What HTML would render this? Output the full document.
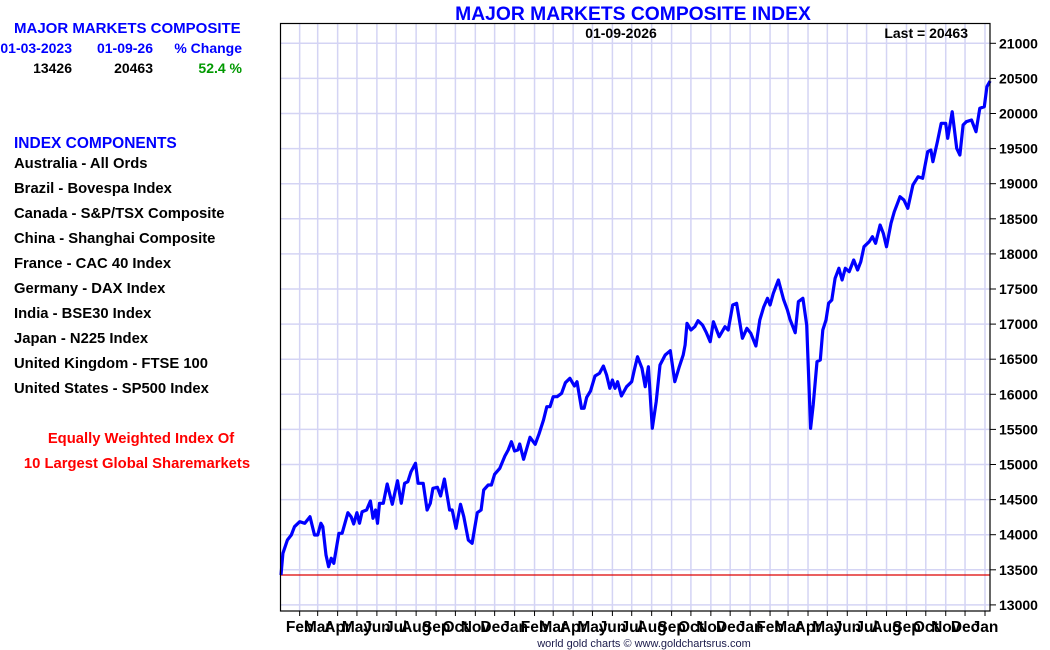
<!DOCTYPE html>
<html><head><meta charset="utf-8"><style>
body{margin:0;background:#fff;}
svg{display:block;font-family:"Liberation Sans",Arial,sans-serif;}
</style></head><body>
<svg id="chart" width="1050" height="650" viewBox="0 0 1050 650" xmlns="http://www.w3.org/2000/svg">
<g font-weight="bold">
<text x="14" y="33" fill="#0000ff" font-size="15">MAJOR MARKETS COMPOSITE</text>
<text x="72" y="53" fill="#0000ff" font-size="14" text-anchor="end">01-03-2023</text>
<text x="153" y="53" fill="#0000ff" font-size="14" text-anchor="end">01-09-26</text>
<text x="242" y="53" fill="#0000ff" font-size="14" text-anchor="end">% Change</text>
<text x="72" y="73" fill="#000" font-size="14" text-anchor="end">13426</text>
<text x="153" y="73" fill="#000" font-size="14" text-anchor="end">20463</text>
<text x="242" y="73" fill="#009900" font-size="14" text-anchor="end">52.4 %</text>
<text x="14" y="148" fill="#0000ff" font-size="15.5">INDEX COMPONENTS</text>
<g font-size="14.8" fill="#000">
<text x="14" y="168">Australia - All Ords</text>
<text x="14" y="193">Brazil - Bovespa Index</text>
<text x="14" y="218">Canada - S&amp;P/TSX Composite</text>
<text x="14" y="243">China - Shanghai Composite</text>
<text x="14" y="268">France - CAC 40 Index</text>
<text x="14" y="293">Germany - DAX Index</text>
<text x="14" y="318">India - BSE30 Index</text>
<text x="14" y="343">Japan - N225 Index</text>
<text x="14" y="368">United Kingdom - FTSE 100</text>
<text x="14" y="393">United States - SP500 Index</text>
</g>
<text x="141" y="443" fill="#ff0000" font-size="14.8" text-anchor="middle">Equally Weighted Index Of</text>
<text x="137" y="468" fill="#ff0000" font-size="14.8" text-anchor="middle">10 Largest Global Sharemarkets</text>
</g>
<text x="633" y="20" fill="#0000ff" font-size="19.3" font-weight="bold" text-anchor="middle">MAJOR MARKETS COMPOSITE INDEX</text>
<g id="grid"></g>
<g id="xaxis"></g>
<g id="yaxis"></g>
<line id="baseLine" x1="281" x2="990" stroke="#dd0000" stroke-width="1.2"/>
<path id="series" fill="none" stroke="#0000ff" stroke-width="3.2" stroke-linejoin="round"/>
<rect x="280.5" y="23.5" width="709.5" height="587.5" fill="none" stroke="#000" stroke-width="1.2"/>
<text x="621" y="38" font-size="14" font-weight="bold" text-anchor="middle">01-09-2026</text>
<text x="968" y="38" font-size="14" font-weight="bold" text-anchor="end">Last = 20463</text>
<text x="644" y="647" font-size="11" fill="#1a1a4a" text-anchor="middle">world gold charts © www.goldchartsrus.com</text>
</svg>
<script>
const dayOffsets = [0,3,10,16,21,29,37,45,52,57,62,65,70,74,78,82,90,95,104,109,113,118,122,126,133,139,143,147,150,153,159,165,173,181,187,192,197,202,209,213,221,227,232,236,243,248,254,262,266,272,279,284,291,297,305,311,315,322,327,332,340,348,353,358,363,368,371,377,387,395,401,408,413,418,423,429,436,442,449,456,460,467,471,475,481,488,495,501,506,511,515,519,523,529,537,545,549,554,561,566,571,577,583,589,597,605,612,619,625,628,631,637,643,648,655,661,667,672,681,690,695,702,708,717,724,730,738,744,750,756,760,765,773,781,787,791,799,804,811,817,823,827,833,838,842,847,851,856,861,867,872,877,883,890,896,901,906,914,919,924,931,936,941,948,953,958,962,968,974,982,990,997,1005,1010,1013,1020,1026,1033,1036,1043,1050,1055,1060,1065,1073,1080,1086,1093,1097,1102];
const indexValues = [13426,13735,13925,13996,14114,14185,14162,14256,13996,13996,14162,14114,13711,13544,13664,13593,14020,14020,14313,14256,14152,14313,14162,14328,14352,14480,14234,14352,14162,14447,14447,14722,14433,14769,14447,14732,14755,14897,15017,14732,14732,14352,14447,14661,14675,14551,14793,14352,14352,14091,14433,14256,13925,13877,14313,14352,14637,14708,14708,14861,14946,15121,15207,15325,15192,15207,15292,15074,15387,15288,15434,15634,15823,15823,15966,15966,16014,16165,16228,16118,16180,15801,15801,15957,16047,16261,16299,16403,16275,16086,16204,16086,16180,15976,16108,16180,16346,16536,16370,16108,16393,15516,15895,16417,16560,16621,16180,16393,16560,16702,17011,16916,16963,17048,16987,16878,16749,17034,16821,16963,16916,17272,17296,16798,16940,16869,16688,17058,17239,17368,17272,17439,17628,17349,17201,17068,16878,17319,17368,16987,15516,15848,16464,16488,16916,17058,17296,17344,17652,17795,17628,17795,17746,17913,17771,17889,18103,18174,18245,18151,18412,18293,18103,18436,18601,18721,18815,18768,18650,18981,19100,19077,19456,19480,19313,19598,19860,19860,19647,20026,19504,19409,19836,19883,19907,19741,20074,20097,20382,20463];
const yTicks = [13000,13500,14000,14500,15000,15500,16000,16500,17000,17500,18000,18500,19000,19500,20000,20500,21000];
const monthLabels = ["Feb","Mar","Apr","May","Jun","Jul","Aug","Sep","Oct","Nov","Dec","Jan","Feb","Mar","Apr","May","Jun","Jul","Aug","Sep","Oct","Nov","Dec","Jan","Feb","Mar","Apr","May","Jun","Jul","Aug","Sep","Oct","Nov","Dec","Jan"];
const startValue = 13426;

const NS="http://www.w3.org/2000/svg";
const x0=281, pxPerDay=0.6435;
function xScale(d){return x0+d*pxPerDay;}
function yScale(v){return 43.3+(21000-v)*(35.1/500);}
const startDate=Date.UTC(2023,0,3);
const grid=document.getElementById('grid'), xa=document.getElementById('xaxis'), ya=document.getElementById('yaxis');
function mk(tag,attrs,parent){const e=document.createElementNS(NS,tag);for(const k in attrs)e.setAttribute(k,attrs[k]);parent.appendChild(e);return e;}
yTicks.forEach(v=>{
  const y=yScale(v);
  const g=mk('line',{x1:281,x2:990,y1:y,y2:y,stroke:'#d4d4f4','stroke-width':1.5},grid);
  
  
  const t=mk('line',{x1:990,x2:996,y1:y,y2:y,stroke:'#000','stroke-width':1},ya);
  
  
  const l=mk('text',{x:999,y:y+5,'font-size':14,'font-weight':'bold'},ya);
  l.textContent=v;
  
  
});
monthLabels.forEach((m,i)=>{
  const d=(Date.UTC(2023,1+i,1)-startDate)/86400000;
  const x=xScale(d);
  const g=mk('line',{x1:x,x2:x,y1:24,y2:611,stroke:'#d4d4f4','stroke-width':1.5},grid);
  
  
  const t=mk('line',{x1:x,x2:x,y1:611,y2:616,stroke:'#000','stroke-width':1},xa);
  
  
  const l=mk('text',{x:x,y:632,'font-size':15.5,'font-weight':'bold','text-anchor':'middle'},xa);
  l.textContent=m;
  
  
});
const bl=document.getElementById('baseLine');
bl.setAttribute('y1',yScale(startValue));bl.setAttribute('y2',yScale(startValue));
document.getElementById('series').setAttribute('d',dayOffsets.map((d,i)=>(i?'L':'M')+xScale(d).toFixed(1)+','+yScale(indexValues[i]).toFixed(1)).join(''));
</script>
</body></html>
